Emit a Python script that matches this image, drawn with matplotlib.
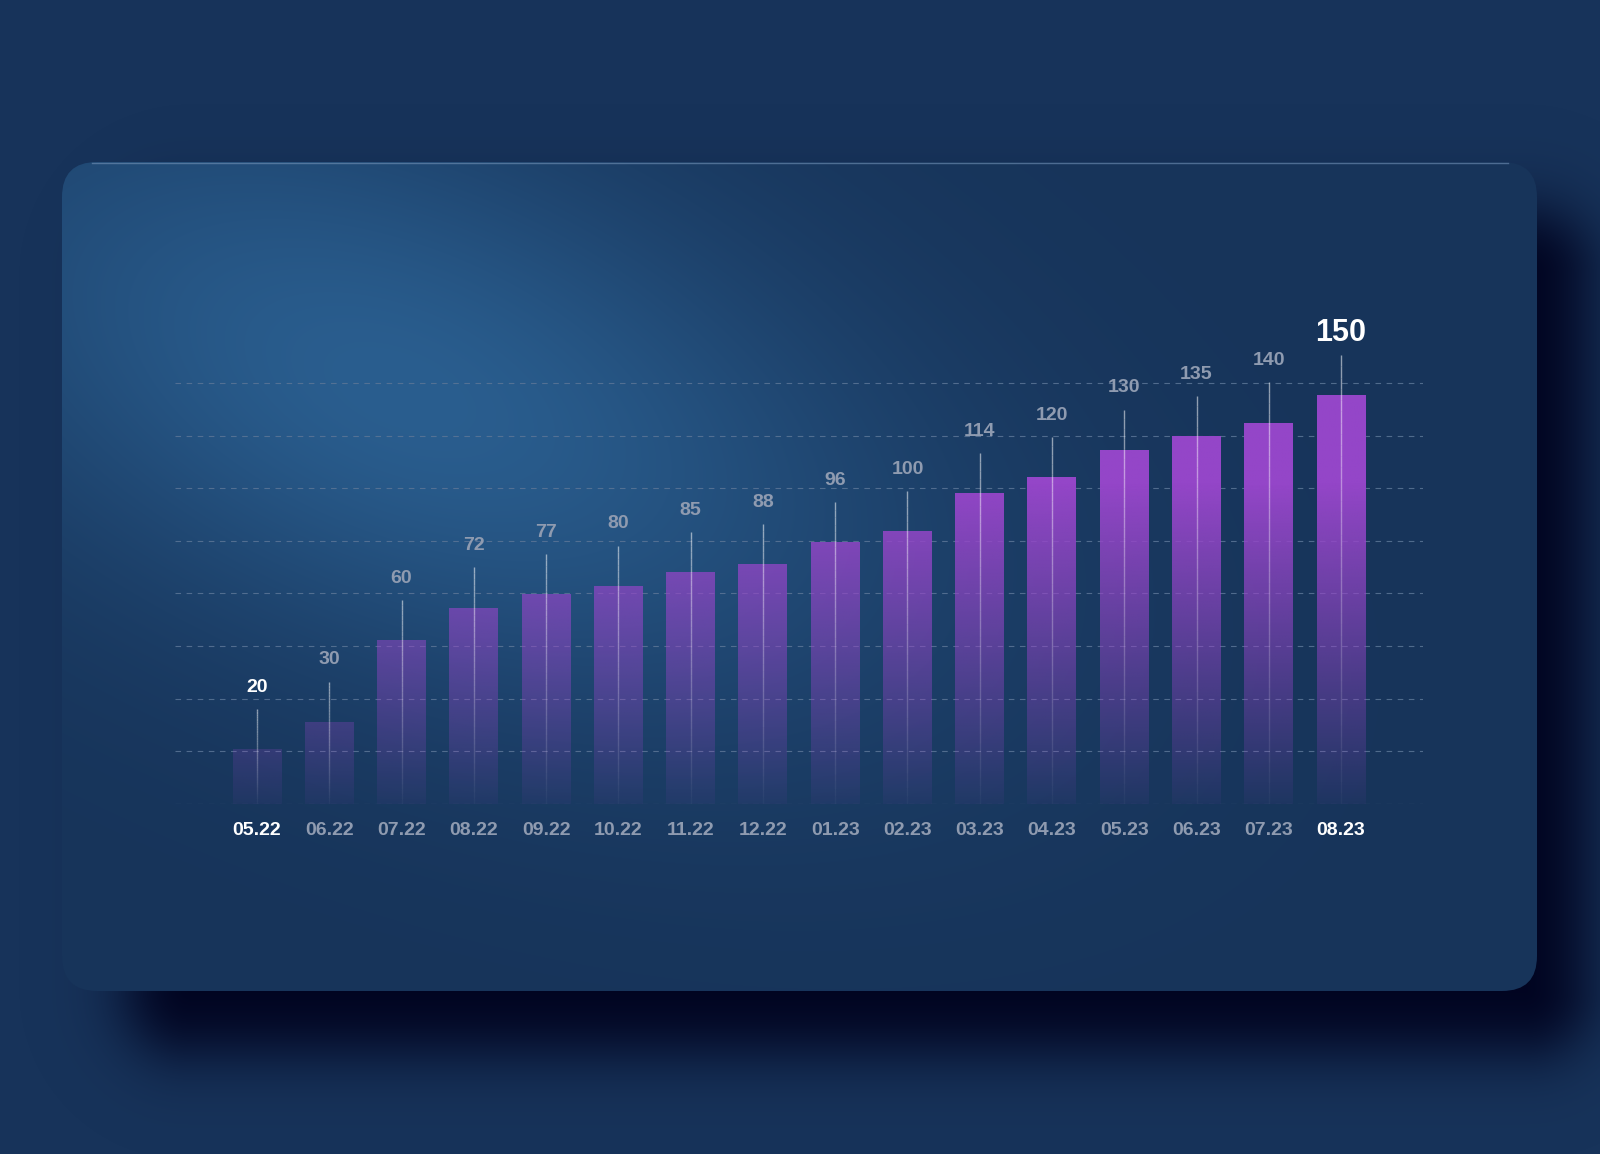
import numpy as np
import matplotlib.pyplot as plt
from matplotlib.patches import FancyBboxPatch
from matplotlib.collections import LineCollection
from matplotlib.colors import to_rgb

months = ["05.22", "06.22", "07.22", "08.22", "09.22", "10.22", "11.22", "12.22",
          "01.23", "02.23", "03.23", "04.23", "05.23", "06.23", "07.23", "08.23"]
values = [20, 30, 60, 72, 77, 80, 85, 88, 96, 100, 114, 120, 130, 135, 140, 150]

W, H = 1600, 1154
BG = "#17335a"
PURPLE = to_rgb("#9446c8")
GREY = "#8f9bb0"
FONT = "Liberation Sans"

fig = plt.figure(figsize=(W / 100, H / 100), dpi=100, facecolor=BG)

# background layer in pixel coordinates: shadow + card with glow
bg = fig.add_axes([0, 0, 1, 1])
bg.set_xlim(0, W)
bg.set_ylim(H, 0)
bg.axis("off")

yy, xx = np.mgrid[0:H, 0:W] + 0.5


def rrect_sdf(x0, y0, x1, y1, r):
    cx, cy = (x0 + x1) / 2, (y0 + y1) / 2
    qx = np.abs(xx - cx) - ((x1 - x0) / 2 - r)
    qy = np.abs(yy - cy) - ((y1 - y0) / 2 - r)
    outside = np.hypot(np.maximum(qx, 0), np.maximum(qy, 0))
    inside = np.minimum(np.maximum(qx, qy), 0)
    return outside + inside - r


d = rrect_sdf(130, 215, 1585, 1050, 60)
shadow = np.zeros((H, W, 4))
shadow[..., :3] = to_rgb("#00021e")
shadow[..., 3] = 1 / (1 + np.exp(d / 20))
bg.imshow(shadow, extent=(0, W, H, 0), interpolation="bilinear", zorder=1)

# elliptical glow on the card
cx, cy, ang = 400, 390, np.deg2rad(22)
u = (xx - cx) * np.cos(ang) + (yy - cy) * np.sin(ang)
v = -(xx - cx) * np.sin(ang) + (yy - cy) * np.cos(ang)
g = np.exp(-((u / 520) ** 2 + (v / 260) ** 2))[..., None]
base = np.array(to_rgb("#17345a"))
peak = np.array(to_rgb("#2a5e8f"))
card_img = base + g * (peak - base)
card = bg.imshow(card_img, extent=(0, W, H, 0), interpolation="bilinear", zorder=2)
card_patch = FancyBboxPatch((62, 162), 1475, 829, boxstyle="round,pad=0,rounding_size=35",
                            facecolor="none", edgecolor="none", transform=bg.transData)
bg.add_patch(card_patch)
card.set_clip_path(card_patch)
bg.plot([92, 1508], [162.5, 162.5], color="#7393b8", lw=1, alpha=0.6, zorder=3)

# chart
ax = fig.add_axes([175 / W, 1 - 804 / H, 1248 / W, 554 / H])
ax.patch.set_alpha(0)
for s in ax.spines.values():
    s.set_visible(False)

grid_step = 19.35
for k in range(9):
    ax.axhline(k * grid_step, color="#5b7596", lw=0.8, ls=(0, (5, 5)), alpha=0.85, zorder=1)

bw = 0.678
for i, val in enumerate(values):
    y = np.linspace(0, val, 300)
    alpha = np.clip(0.06 + 1.2 * y / 150, 0, 1)
    img = np.zeros((len(y), 1, 4))
    img[..., :3] = PURPLE
    img[:, 0, 3] = alpha
    ax.imshow(img, extent=(i - bw / 2, i + bw / 2, 0, val), origin="lower",
              aspect="auto", interpolation="bilinear", zorder=2)

# thin leader lines fading downwards
segs, cols = [], []
for i, val in enumerate(values):
    ys = np.linspace(val + 15, 0, 41)
    for a, b, t in zip(ys[:-1], ys[1:], np.linspace(0, 1, 40)):
        segs.append([(i, a), (i, b)])
        cols.append((1, 1, 1, 0.5 * (1 - t) + 0.03))
ax.add_collection(LineCollection(segs, colors=cols, linewidths=1.0, zorder=3))

for i, val in enumerate(values):
    last = i == len(values) - 1
    color = "white" if i == 0 or last else GREY
    ax.annotate(str(val), (i, val), xytext=(0, 45), textcoords="offset points",
                ha="center", va="center", color=color, fontsize=22 if last else 14,
                fontweight="bold", family=FONT, zorder=4)

ax.set_xlim(-1.135, 16.134)
ax.set_ylim(0, 554 / 2.72)
ax.set_yticks([])
ax.set_xticks(range(len(months)))
ax.set_xticklabels(months, fontsize=14, fontweight="bold", family=FONT)
ax.tick_params(axis="x", length=0, pad=13)
for i, lbl in enumerate(ax.get_xticklabels()):
    lbl.set_color("white" if i in (0, len(months) - 1) else GREY)

fig.savefig("out.png", dpi=100, facecolor=BG)
